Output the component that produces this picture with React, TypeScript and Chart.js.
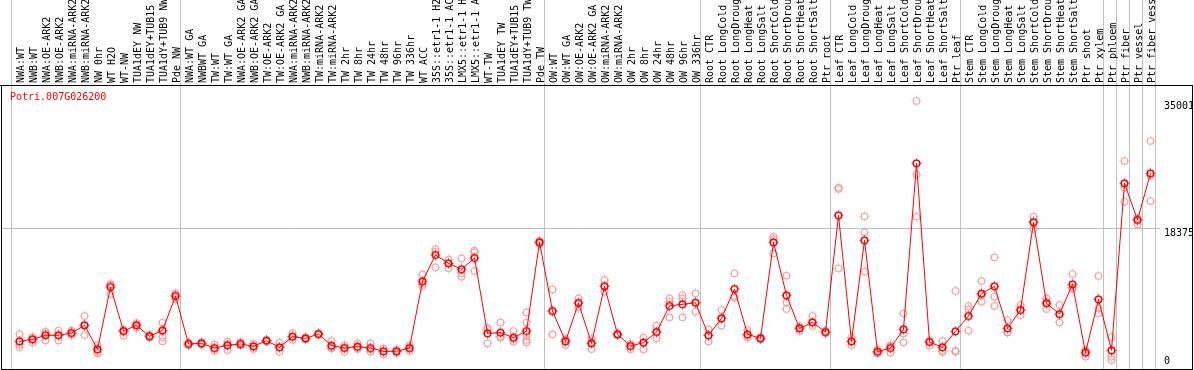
import React, { useEffect, useRef } from 'react';
import { Chart, registerables } from 'chart.js';

Chart.register(...registerables);

const GENE_ID = 'Potri.007G026200';

const LABELS: string[] = [
  'NWA:WT', 'NWB:WT', 'NWA:OE-ARK2', 'NWB:OE-ARK2', 'NWA:miRNA-ARK2', 'NWB:miRNA-ARK2',
  'NW 0hr', 'WT H2O', 'WT-NW', 'TUA1dEY NW', 'TUA1dEY+TUB15 NW', 'TUA1dY+TUB9 NW', 'Pde NW',
  'NWA:WT GA', 'NWBWT GA', 'TW:WT', 'TW:WT GA', 'NWA:OE-ARK2 GA', 'NWB:OE-ARK2 GA',
  'TW:OE-ARK2', 'TW:OE-ARK2 GA', 'NWA:miRNA-ARK2 GA', 'NWB:miRNA-ARK2 GA', 'TW:miRNA-ARK2',
  'TW:miRNA-ARK2 GA', 'TW 2hr', 'TW 8hr', 'TW 24hr', 'TW 48hr', 'TW 96hr', 'TW 336hr', 'WT ACC',
  '35S::etr1-1 H2O', '35S::etr1-1 ACC', 'LMX5::etr1-1 H2O', 'LMX5::etr1-1 ACC', 'WT-TW',
  'TUA1dEY TW', 'TUA1dEY+TUB15 TW', 'TUA1dY+TUB9 TW', 'Pde TW',
  'OW:WT', 'OW:WT GA', 'OW:OE-ARK2', 'OW:OE-ARK2 GA', 'OW:miRNA-ARK2', 'OW:miRNA-ARK2 GA',
  'OW 2hr', 'OW 8hr', 'OW 24hr', 'OW 48hr', 'OW 96hr', 'OW 336hr',
  'Root CTR', 'Root LongCold', 'Root LongDrought', 'Root LongHeat', 'Root LongSalt',
  'Root ShortCold', 'Root ShortDrought', 'Root ShortHeat', 'Root ShortSalt', 'Ptr root',
  'Leaf CTR', 'Leaf LongCold', 'Leaf LongDrought', 'Leaf LongHeat', 'Leaf LongSalt',
  'Leaf ShortCold', 'Leaf ShortDrought', 'Leaf ShortHeat', 'Leaf ShortSalt', 'Ptr leaf',
  'Stem CTR', 'Stem LongCold', 'Stem LongDrought', 'Stem LongHeat', 'Stem LongSalt',
  'Stem ShortCold', 'Stem ShortDrought', 'Stem ShortHeat', 'Stem ShortSalt', 'Ptr shoot', 'Ptr xylem',
  'Ptr phloem', 'Ptr fiber', 'Ptr vessel', 'Ptr fiber vessel',
];

// index of the first category of each sample group (last entry = end)
const GROUP_STARTS = [0, 13, 41, 53, 63, 73, 84, 85, 86, 87, 88];

const Y_TICKS = [0, 18375, 35001];

const MEANS: number[] = [
  3610, 3870, 4400, 4400, 4700, 5700, 2570, 10710, 4960, 5700, 4270, 5050, 9530,
  3270, 3350, 2740, 3090, 3270, 2960, 3700, 2830, 4220, 4000, 4570, 3050, 2740, 2920, 2740,
  2310, 2310, 2740, 11450, 14890, 13800, 13020, 14500, 4660, 4750, 4090, 4960, 16540,
  7570, 3610, 8620, 3350, 10800, 4530, 3000, 3440, 4830, 8230, 8450, 8660,
  4400, 6620, 10450, 4530, 4000, 16540, 9620, 5310, 6090, 4830,
  20070, 3610, 16800, 2260, 2740, 5180, 26860, 3530, 2830, 4920,
  6920, 9840, 10800, 5310, 7700, 19150, 8580, 7180, 11060, 2130, 9100,
  2440, 24250, 19460, 25550,
];

const REPLICATES: number[][] = [
  [4570, 3220, 2870], [4180, 3920, 3440], [4880, 4660, 3740], [5010, 4440, 3740],
  [5010, 4700, 4440], [6920, 5750, 4440], [3130, 2260, 2050], [11100, 10970, 9790],
  [5090, 4880, 4350], [6010, 5830, 5400], [4440, 4350, 4090], [6050, 4880, 4140, 3610],
  [9880, 9660, 9100],
  [3440, 3130, 3270], [3530, 3220, 3350], [3220, 2700, 2390], [3570, 3220, 2480],
  [3480, 3270, 3090], [3310, 2960, 2610], [3790, 3700, 3610], [3440, 2830, 2260],
  [4700, 4220, 3790], [4140, 4000, 3870], [4660, 4570, 4480], [3660, 2830, 2700],
  [3130, 2790, 2260], [3350, 2830, 2610], [3350, 2610, 2260], [2700, 2260, 1920],
  [2480, 2310, 2130], [3130, 2700, 2390], [12360, 11100, 10840], [15670, 15320, 13280],
  [14320, 13800, 13150], [14450, 12490, 12060], [15450, 15240, 12800], [5400, 5180, 3350],
  [6090, 4220, 4090], [4960, 3920, 3570], [7400, 6090, 4440, 3790, 3480], [16760, 16540, 16320],
  [10400, 7570, 4530], [3900, 3790, 3130], [9230, 8620, 8010], [3920, 3520, 2610],
  [11620, 10800, 10100], [4620, 4530, 4440], [3310, 3000, 2570], [4090, 3440, 2570],
  [5660, 4830, 4000], [9230, 8790, 6750], [9660, 9230, 6750], [9880, 8660, 7490],
  [5180, 4400, 3570], [7700, 6620, 5660], [12490, 9530, 9320], [5090, 4350, 4090],
  [4140, 4000, 3870], [17280, 16980, 15100], [12190, 8710, 7840], [5530, 5440, 4960],
  [6920, 6090, 5620], [4960, 4830, 4700],
  [23680, 23510, 13150], [4090, 3610, 3130], [19940, 17850, 12710], [2570, 2260, 2050],
  [3130, 2960, 2130], [7270, 4660, 3480], [35001, 25420, 19890], [3660, 3570, 3050],
  [3660, 2350, 2260], [10190, 2390, 2260],
  [8230, 7790, 5010], [11490, 9660, 8790], [14580, 9450, 8230], [6400, 4790, 4790],
  [8360, 7700, 7050], [19890, 19240, 18300], [9230, 8790, 7840], [8360, 7140, 6090],
  [12410, 10620, 10450], [2480, 2300, 1610], [12150, 7920, 7270],
  [4140, 1610, 1180], [27160, 23680, 21850], [19680, 19460, 18890], [29780, 25250, 21940],
];

// layout constants (pixels)
const W = 1194;
const H = 370;
const PLOT_TOP = 85;
const PLOT_BOTTOM = 369;
const Y_AXIS_W = 34;
const STEP = 13;
const FIRST_X = 19.5;
const AREA_LEFT = 1;
const AREA_RIGHT = W - Y_AXIS_W;
const X_MIN = -(FIRST_X - AREA_LEFT) / STEP;
const X_MAX = X_MIN + (AREA_RIGHT - AREA_LEFT) / STEP;
const Y_MAX = 37090;
const SEP_SHIFT = 0.62;

const MONO = "'DejaVu Sans Mono', monospace";

function makeMarker(color: string, lw: number): HTMLCanvasElement {
  const c = document.createElement('canvas');
  c.width = 13;
  c.height = 13;
  const g = c.getContext('2d')!;
  g.strokeStyle = color;
  g.lineWidth = lw;
  g.beginPath();
  g.arc(6.5, 6.5, 3.3, 0, Math.PI * 2);
  g.stroke();
  g.fillStyle = color;
  g.fillRect(6, 1.6, 1, 1);
  g.fillRect(6, 10.4, 1, 1);
  g.fillRect(1.6, 6, 1, 1);
  g.fillRect(10.4, 6, 1, 1);
  return c;
}

const decorPlugin = {
  id: 'decor',
  afterDraw(chart: any) {
    const { ctx, chartArea, scales } = chart;
    const ys = scales.y;
    ctx.save();
    ctx.fillStyle = '#000';
    const right = chart.width - 2;
    ctx.fillRect(0, chartArea.top, right + 1, 1);
    ctx.fillRect(chartArea.left, chartArea.top, 1, chartArea.bottom - chartArea.top + 1);
    ctx.fillRect(right, chartArea.top, 1, chartArea.bottom - chartArea.top + 1);
    ctx.fillRect(chartArea.left, chartArea.bottom, right - chartArea.left, 1);

    ctx.font = `10px ${MONO}`;
    ctx.textBaseline = 'middle';
    ctx.textAlign = 'left';
    ctx.fillStyle = '#ff0000';
    ctx.fillText(GENE_ID, chartArea.left + 9, chartArea.top + 12);

    ctx.fillStyle = '#000';
    Y_TICKS.forEach((v) => {
      const py = Math.min(ys.getPixelForValue(v) + 5.5, chartArea.bottom - 7.5);
      ctx.fillText(String(v), ys.left + 4, py);
    });
    ctx.restore();
  },
};

export default function App() {
  const ref = useRef<HTMLCanvasElement>(null);

  useEffect(() => {
    const canvas = ref.current;
    if (!canvas) return;
    const meanMarker = makeMarker('#f00000', 1.5);
    const repMarker = makeMarker('rgb(240,155,155)', 1.1);

    const meanPoints = MEANS.map((v, i) => ({ x: i, y: v }));
    const repPoints = REPLICATES.flatMap((reps, i) => reps.map((v) => ({ x: i, y: v })));
    const sepValues = GROUP_STARTS.map((k) => k - SEP_SHIFT);

    const chart = new Chart(canvas, {
      type: 'line',
      data: {
        datasets: [
          {
            label: 'mean',
            data: meanPoints,
            borderColor: '#ff0000',
            borderWidth: 1,
            pointStyle: meanMarker as any,
            pointRadius: 4,
            tension: 0,
            order: 0,
          },
          {
            label: 'replicates',
            data: repPoints,
            showLine: false,
            borderColor: 'rgb(240,155,155)',
            pointStyle: repMarker as any,
            pointRadius: 4,
            order: 1,
          },
        ],
      },
      options: {
        responsive: false,
        animation: false,
        events: [],
        layout: {
          autoPadding: false,
          padding: { left: AREA_LEFT, right: 0, top: 0, bottom: H - PLOT_BOTTOM },
        },
        plugins: {
          legend: { display: false },
          tooltip: { enabled: false },
          title: { display: false },
        },
        scales: {
          x: {
            type: 'linear',
            position: 'top',
            weight: 1,
            min: X_MIN,
            max: X_MAX,
            afterBuildTicks: (s: any) => {
              s.ticks = LABELS.map((_, i) => ({ value: i }));
            },
            afterFit: (s: any) => {
              s.height = PLOT_TOP;
            },
            grid: { display: false, drawTicks: false },
            border: { display: false },
            ticks: {
              autoSkip: false,
              minRotation: 90,
              maxRotation: 90,
              mirror: true,
              padding: -2,
              labelOffset: 1.5,
              color: '#000',
              font: { family: MONO, size: 10 },
              callback: (_v: any, i: number) => LABELS[i],
            },
          },
          x2: {
            type: 'linear',
            position: 'top',
            weight: 0,
            min: X_MIN,
            max: X_MAX,
            afterBuildTicks: (s: any) => {
              s.ticks = sepValues.map((v) => ({ value: v }));
            },
            afterFit: (s: any) => {
              s.height = 0;
            },
            ticks: { display: false },
            border: { display: false },
            grid: {
              color: '#c0c0c0',
              lineWidth: 1,
              drawTicks: true,
              tickLength: PLOT_TOP,
              drawOnChartArea: true,
            },
          },
          y: {
            type: 'linear',
            position: 'right',
            min: 0,
            max: Y_MAX,
            afterBuildTicks: (s: any) => {
              s.ticks = Y_TICKS.map((v) => ({ value: v }));
            },
            afterFit: (s: any) => {
              s.width = Y_AXIS_W;
            },
            ticks: { display: false },
            border: { display: false },
            grid: {
              drawTicks: false,
              color: (c: any) => (c.tick && c.tick.value === Y_TICKS[1] ? '#c0c0c0' : 'rgba(0,0,0,0)'),
            },
          },
        },
      } as any,
      plugins: [decorPlugin],
    });
    return () => chart.destroy();
  }, []);

  return (
    <div style={{ position: 'fixed', left: 0, top: 0, width: W, height: H, background: '#fff' }}>
      <canvas ref={ref} width={W} height={H} style={{ display: 'block', width: W, height: H }} />
    </div>
  );
}
